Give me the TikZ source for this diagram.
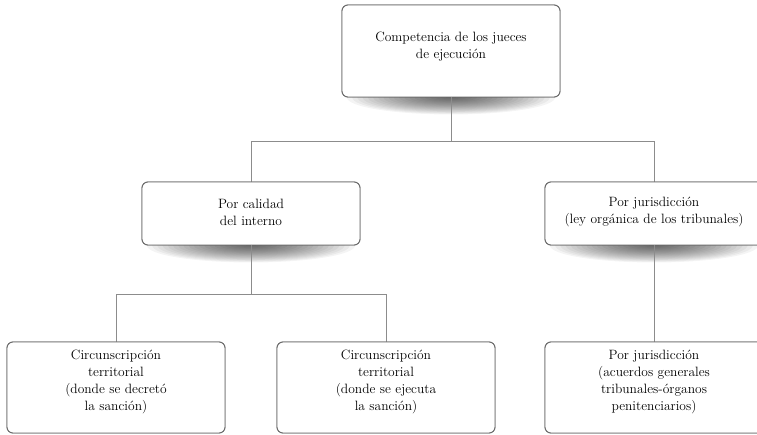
\documentclass[tikz,border=0pt]{standalone}
\usetikzlibrary{positioning}
\tikzset{
  box/.style={draw=black!58, line width=0.95pt, fill=white, rounded corners=6pt,
    minimum width=218pt, align=center, inner sep=0pt,
    font=\fontsize{13.5}{17}\selectfont},
  conn/.style={draw=black!45, line width=1pt},
  shadowlayer/.style={fill=black, fill opacity=0.045, draw=none},
}
\newcommand{\boxshadow}[1]{%
  \begin{scope}
    \clip ([xshift=-108pt]#1.south) rectangle ([xshift=108pt,yshift=-26pt]#1.south);
    \foreach \i in {0,...,19}{
      \path[shadowlayer] (#1.south) ellipse [x radius={104*(1-\i/20)}, y radius={17*(1-\i/20)}];
    }
  \end{scope}}
\begin{document}
\begin{tikzpicture}[x=1pt,y=-1pt]
\useasboundingbox (0,0) rectangle (757,434);
\clip (0,0) rectangle (757,434);
\node[box, minimum height=92pt] (top) at (451,51) {};
\node[box, minimum height=63pt] (ml) at (251,213.5) {};
\node[box, minimum height=63pt] (mr) at (654,213.5) {};
\node[box, minimum height=91pt] (bl) at (116,387.5) {};
\node[box, minimum height=91pt] (bm) at (386,387.5) {};
\node[box, minimum height=91pt] (br) at (654,387.5) {};
% shadows
\boxshadow{top}
\boxshadow{ml}
\boxshadow{mr}
% connectors
\draw[conn] (top.south) -- ++(0,44) coordinate (j1) -| (ml.north);
\draw[conn] (j1) -| (mr.north);
\draw[conn] (ml.south) -- ++(0,49) coordinate (j2) -| (bl.north);
\draw[conn] (j2) -| (bm.north);
\draw[conn] (mr.south) -- (br.north);
% boxes on top
\node[box, minimum height=92pt] at (top) {};
\node[box, minimum height=63pt] at (ml) {};
\node[box, minimum height=63pt] at (mr) {};
\node[box, minimum height=91pt] at (bl) {};
\node[box, minimum height=91pt] at (bm) {};
\node[box, minimum height=91pt] at (br) {};
% texts
\node[box, draw=none, fill=none, minimum width=0pt] (ttop) at (451,47) {Competencia de los jueces\\de ejecución};
\node[box, draw=none, fill=none, minimum width=0pt] (tml) at (251,212) {Por calidad\\del interno};
\node[box, draw=none, fill=none, minimum width=0pt] (tmr) at (654,212) {Por jurisdicción\\(ley orgánica de los tribunales)};
\node[box, draw=none, fill=none, minimum width=0pt] (tbl) at (116,382) {Circunscripción\\territorial\\(donde se decretó\\la sanción)};
\node[box, draw=none, fill=none, minimum width=0pt] (tbm) at (386,382) {Circunscripción\\territorial\\(donde se ejecuta\\la sanción)};
\node[box, draw=none, fill=none, minimum width=0pt] (tbr) at (654,382) {Por jurisdicción\\(acuerdos generales\\tribunales-órganos\\penitenciarios)};
\end{tikzpicture}
\end{document}
